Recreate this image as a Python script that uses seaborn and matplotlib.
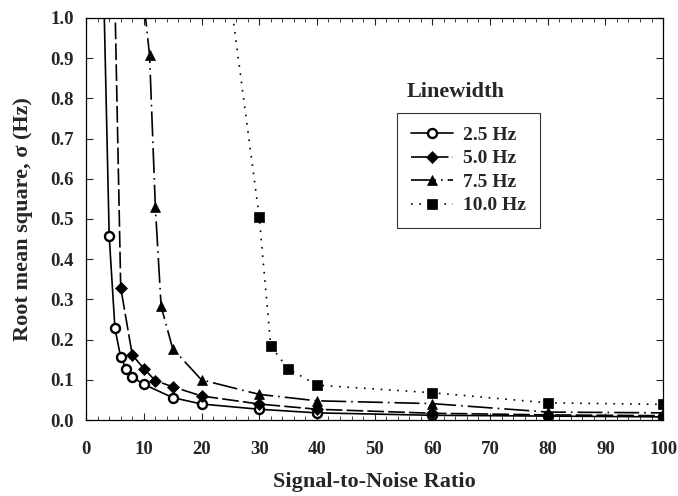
import matplotlib
matplotlib.use("Agg")
import matplotlib.pyplot as plt
from matplotlib.ticker import MultipleLocator, FormatStrFormatter
import pandas as pd
import seaborn as sns

# RMS error vs signal-to-noise ratio for four linewidths
snr_25 = [3, 4, 5, 6, 7, 8, 10, 15, 20, 30, 40, 60, 80, 100]
rms_25 = [1.1, 0.458, 0.228, 0.156, 0.127, 0.107, 0.089, 0.056, 0.040, 0.027, 0.018, 0.012, 0.010, 0.008]

snr_50 = [5, 6, 8, 10, 12, 15, 20, 30, 40, 60, 80, 100]
rms_50 = [1.04, 0.329, 0.162, 0.128, 0.098, 0.083, 0.060, 0.040, 0.027, 0.017, 0.013, 0.011]

snr_75 = [10, 11, 12, 13, 15, 20, 30, 40, 60, 80, 100]
rms_75 = [1.04, 0.907, 0.530, 0.283, 0.178, 0.100, 0.064, 0.048, 0.041, 0.020, 0.018]

snr_100 = [25, 30, 32, 35, 40, 60, 80, 100]
rms_100 = [1.05, 0.505, 0.184, 0.128, 0.087, 0.068, 0.043, 0.039]

labels = ["2.5 Hz", "5.0 Hz", "7.5 Hz", "10.0 Hz"]

df = pd.concat([
    pd.DataFrame({"snr": snr_25, "rms": rms_25, "lw": labels[0]}),
    pd.DataFrame({"snr": snr_50, "rms": rms_50, "lw": labels[1]}),
    pd.DataFrame({"snr": snr_75, "rms": rms_75, "lw": labels[2]}),
    pd.DataFrame({"snr": snr_100, "rms": rms_100, "lw": labels[3]}),
])

sns.set_style("ticks")
plt.rcParams["font.family"] = ["Liberation Serif", "DejaVu Serif"]
plt.rcParams["font.weight"] = "bold"

fig = plt.figure(figsize=(6.78, 4.96), dpi=100)
ax = fig.add_axes([0.127, 0.153, 0.851, 0.811])

styles = {
    "2.5 Hz": dict(ls="-", marker="o", mfc="white", ms=6.5, mew=1.7),
    "5.0 Hz": dict(ls=(0, (10, 2.5)), marker="D", mfc="black", ms=6, mew=0.5),
    "7.5 Hz": dict(ls=(0, (15, 3, 1, 3)), marker="^", mfc="black", ms=7.5, mew=0.5),
    "10.0 Hz": dict(ls=(0, (1, 4)), marker="s", mfc="black", ms=7, mew=0.5),
}

for name in labels:
    st = styles[name]
    sub = df[df["lw"] == name]
    sns.lineplot(data=sub, x="snr", y="rms", ax=ax, color="black", lw=1.2,
                 linestyle=st["ls"], marker=st["marker"], markerfacecolor=st["mfc"],
                 markeredgecolor="black", markersize=st["ms"], markeredgewidth=st["mew"],
                 label=name)

ax.set_xlim(0, 100)
ax.set_ylim(0, 1.0)
ax.xaxis.set_major_locator(MultipleLocator(10))
ax.xaxis.set_minor_locator(MultipleLocator(2))
ax.yaxis.set_major_locator(MultipleLocator(0.1))
ax.yaxis.set_major_formatter(FormatStrFormatter("%.1f"))
ax.tick_params(axis="both", which="both", direction="in", top=True, right=True)
ax.tick_params(which="major", length=5, width=0.8, labelsize=13.5)
ax.tick_params(axis="x", which="major", pad=15)
ax.tick_params(axis="y", which="major", pad=9)
ax.tick_params(which="minor", length=3, width=0.6)
for lab in ax.get_xticklabels() + ax.get_yticklabels():
    lab.set_fontweight("bold")
for sp in ax.spines.values():
    sp.set_linewidth(0.9)
    sp.set_color("black")

ax.set_xlabel("Signal-to-Noise Ratio", fontsize=16, fontweight="bold", labelpad=10)
ax.set_ylabel("Root mean square, σ (Hz)", fontsize=16, fontweight="bold", labelpad=12)

leg = ax.legend(loc="upper left", bbox_to_anchor=(0.539, 0.764), borderaxespad=0,
                fontsize=14, frameon=True, fancybox=False, edgecolor="black",
                handlelength=2.2, labelspacing=0.3, borderpad=0.7, handletextpad=0.5)
leg.get_frame().set_linewidth(0.8)
for t in leg.get_texts():
    t.set_fontweight("bold")
ax.text(0.6405, 0.815, "Linewidth", transform=ax.transAxes, ha="center", va="center",
        fontsize=16, fontweight="bold")

fig.savefig("out.png", dpi=100)
